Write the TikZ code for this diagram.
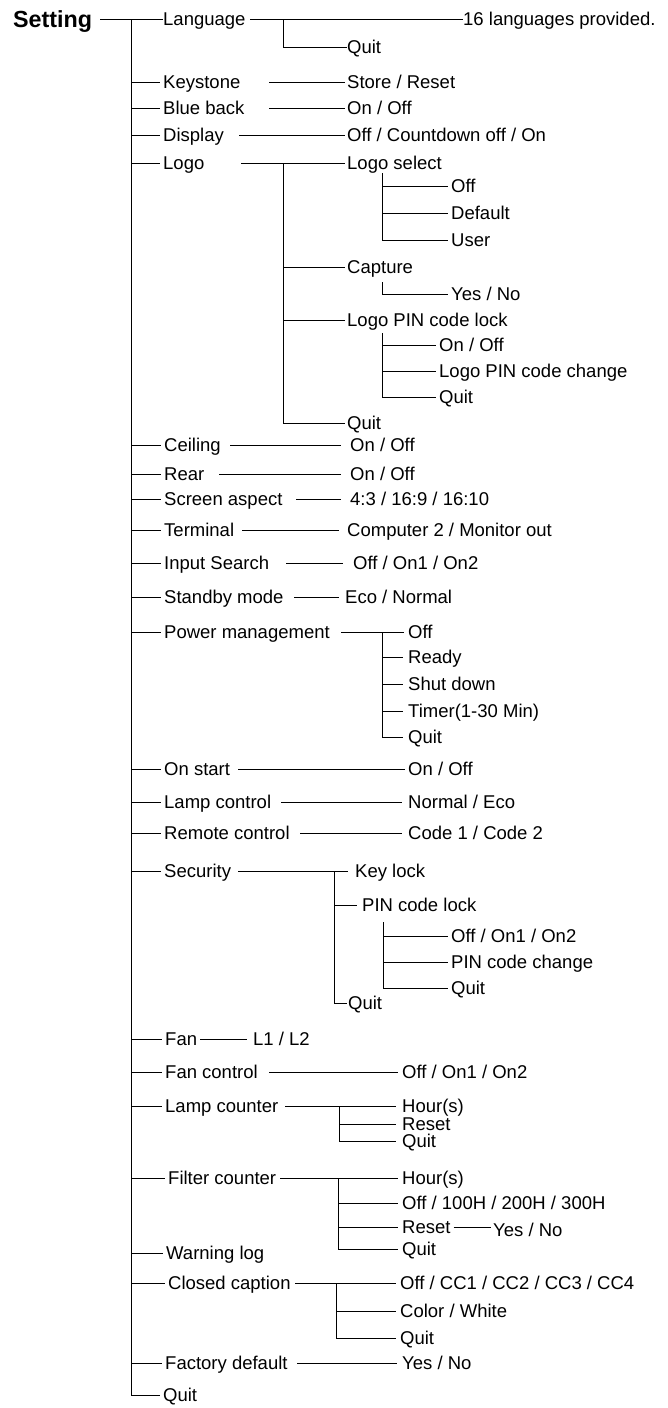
\documentclass[tikz,border=0pt]{standalone}
\usepackage{fontspec}
\setmainfont{Liberation Sans}
\newcommand{\menufont}{\fontsize{18.5}{22}\selectfont}
\newcommand{\headfont}{\fontsize{23.3}{28}\selectfont\bfseries}

\begin{document}
\begin{tikzpicture}[x=1pt, y=-1pt,
  item/.style={anchor=west, inner sep=0pt, text height=13.2pt, text depth=0pt, font=\menufont},
  head/.style={item, font=\headfont, text height=16.7pt},
  link/.style={line width=1pt}
]
\useasboundingbox (0,0) rectangle (668,1408);

% Root and first entry
\node[head] (set) at (13,19) {Setting};
\node[item] (lang) at (163,19) {Language};
\node[item] (langall) at (463,19) {16 languages provided.};
\node[item] (langq) at (347,47) {Quit};

% Main menu entries
\node[item] (key)   at (163,82)   {Keystone};
\node[item] (blue)  at (163,108)  {Blue back};
\node[item] (disp)  at (163,135)  {Display};
\node[item] (logo)  at (163,163)  {Logo};
\node[item] (ceil)  at (164,445)  {Ceiling};
\node[item] (rear)  at (164,474)  {Rear};
\node[item] (asp)   at (164,499)  {Screen aspect};
\node[item] (term)  at (164,530)  {Terminal};
\node[item] (isrch) at (164,563)  {Input Search};
\node[item] (stby)  at (164,597)  {Standby mode};
\node[item] (pwr)   at (164,632)  {Power management};
\node[item] (onst)  at (164,769)  {On start};
\node[item] (lampc) at (164,802)  {Lamp control};
\node[item] (remc)  at (164,833)  {Remote control};
\node[item] (sec)   at (164,871)  {Security};
\node[item] (fan)   at (165,1039) {Fan};
\node[item] (fanc)  at (165,1072) {Fan control};
\node[item] (lcnt)  at (165,1106) {Lamp counter};
\node[item] (fcnt)  at (168,1178) {Filter counter};
\node[item] (warn)  at (166,1253) {Warning log};
\node[item] (cc)    at (168,1283) {Closed caption};
\node[item] (fact)  at (165,1363) {Factory default};
\node[item] (quit)  at (163,1395) {Quit};

% Values of the simple entries
\node[item] (keyv)   at (347,82)   {Store / Reset};
\node[item] (bluev)  at (347,108)  {On / Off};
\node[item] (dispv)  at (347,135)  {Off / Countdown off / On};
\node[item] (ceilv)  at (350,445)  {On / Off};
\node[item] (rearv)  at (350,474)  {On / Off};
\node[item] (aspv)   at (350,499)  {4:3 / 16:9 / 16:10};
\node[item] (termv)  at (347,530)  {Computer 2 / Monitor out};
\node[item] (isrchv) at (353,563)  {Off / On1 / On2};
\node[item] (stbyv)  at (345,597)  {Eco / Normal};
\node[item] (onstv)  at (408,769)  {On / Off};
\node[item] (lampcv) at (408,802)  {Normal / Eco};
\node[item] (remcv)  at (408,833)  {Code 1 / Code 2};
\node[item] (fanv)   at (253,1039) {L1 / L2};
\node[item] (fancv)  at (402,1072) {Off / On1 / On2};
\node[item] (factv)  at (402,1363) {Yes / No};

% Logo submenu
\node[item] (lsel)  at (347,163) {Logo select};
\node[item] (loff)  at (451,186) {Off};
\node[item] (ldef)  at (451,213) {Default};
\node[item] (luser) at (451,240) {User};
\node[item] (lcap)  at (347,267) {Capture};
\node[item] (capyn) at (451,294) {Yes / No};
\node[item] (lpin)  at (347,320) {Logo PIN code lock};
\node[item] (lpoo)  at (439,345) {On / Off};
\node[item] (lpch)  at (439,371) {Logo PIN code change};
\node[item] (lpq)   at (439,397) {Quit};
\node[item] (lquit) at (347,423) {Quit};

% Power management submenu
\node[item] (poff)   at (408,632) {Off};
\node[item] (prdy)   at (408,657) {Ready};
\node[item] (pshut)  at (408,684) {Shut down};
\node[item] (ptim)   at (408,711) {Timer(1-30 Min)};
\node[item] (pquit)  at (408,737) {Quit};

% Security submenu
\node[item] (skey)  at (355,871)  {Key lock};
\node[item] (spin)  at (362,905)  {PIN code lock};
\node[item] (spoff) at (451,936)  {Off / On1 / On2};
\node[item] (spch)  at (451,962)  {PIN code change};
\node[item] (spq)   at (451,988)  {Quit};
\node[item] (squit) at (348,1003) {Quit};

% Counters
\node[item] (lch)   at (402,1106) {Hour(s)};
\node[item] (lcr)   at (402,1124) {Reset};
\node[item] (lcq)   at (402,1141) {Quit};
\node[item] (fch)   at (402,1178) {Hour(s)};
\node[item] (fco)   at (402,1203) {Off / 100H / 200H / 300H};
\node[item] (fcr)   at (402,1227) {Reset};
\node[item] (fcryn) at (493,1230) {Yes / No};
\node[item] (fcq)   at (402,1249) {Quit};

% Closed caption submenu
\node[item] (cco) at (400,1283) {Off / CC1 / CC2 / CC3 / CC4};
\node[item] (ccc) at (400,1311) {Color / White};
\node[item] (ccq) at (400,1338) {Quit};

% Branch points
\coordinate (trunk)  at (131,19);
\coordinate (langbr) at (283,19);
\coordinate (logobr) at (283,163);
\coordinate (lselbr) at (382,173);
\coordinate (capbr)  at (382,282);
\coordinate (lpinbr) at (382,333);
\coordinate (pwrbr)  at (382,632);
\coordinate (secbr)  at (334,871);
\coordinate (spinbr) at (383,922);
\coordinate (lcbr)   at (339,1106);
\coordinate (fcbr)   at (338,1178);
\coordinate (ccbr)   at (336,1283);

% Trunk
\draw[link] (100,0 |- lang) -- (lang.west);
\draw[link] (trunk) |- ([xshift=-3pt]quit.west);
\foreach \n in {key,blue,disp,logo,ceil,rear,asp,term,isrch,stby,pwr,onst,
                lampc,remc,sec,fan,fanc,lcnt,fcnt,warn,cc,fact}
  \draw[link, shorten >=3pt] (trunk |- \n) -- (\n.west);

% Language
\draw[link] (250,0 |- lang) -- (langall.west);
\draw[link] (langbr) |- (langq.west);

% Simple entries
\draw[link, shorten >=2pt] (269,0 |- key)   -- (keyv.west);
\draw[link, shorten >=2pt] (269,0 |- blue)  -- (bluev.west);
\draw[link, shorten >=2pt] (239,0 |- disp)  -- (dispv.west);
\draw[link, shorten >=9pt] (230,0 |- ceil)  -- (ceilv.west);
\draw[link, shorten >=9pt] (219,0 |- rear)  -- (rearv.west);
\draw[link, shorten >=9pt] (296,0 |- asp)   -- (aspv.west);
\draw[link, shorten >=8pt] (242,0 |- term)  -- (termv.west);
\draw[link, shorten >=10pt] (286,0 |- isrch) -- (isrchv.west);
\draw[link, shorten >=6pt] (294,0 |- stby)  -- (stbyv.west);
\draw[link, shorten >=3pt] (238,0 |- onst)  -- (onstv.west);
\draw[link, shorten >=6pt] (281,0 |- lampc) -- (lampcv.west);
\draw[link, shorten >=6pt] (300,0 |- remc)  -- (remcv.west);
\draw[link, shorten >=6pt] (200,0 |- fan)   -- (fanv.west);
\draw[link, shorten >=4pt] (269,0 |- fanc)  -- (fancv.west);
\draw[link, shorten >=5pt] (297,0 |- fact)  -- (factv.west);

% Logo
\draw[link, shorten >=2pt] (241,0 |- logo) -- (lsel.west);
\draw[link, shorten >=2pt] (logobr) |- (lquit.west);
\draw[link, shorten >=2pt] (logobr |- lcap) -- (lcap.west);
\draw[link, shorten >=2pt] (logobr |- lpin) -- (lpin.west);
\draw[link, shorten >=3pt] (lselbr) |- (luser.west);
\foreach \n in {loff,ldef}
  \draw[link, shorten >=3pt] (lselbr |- \n) -- (\n.west);
\draw[link, shorten >=3pt] (capbr) |- (capyn.west);
\draw[link, shorten >=3pt] (lpinbr) |- (lpq.west);
\foreach \n in {lpoo,lpch}
  \draw[link, shorten >=3pt] (lpinbr |- \n) -- (\n.west);

% Power management
\draw[link, shorten >=4pt] (341,0 |- pwr) -- (poff.west);
\draw[link, shorten >=5pt] (pwrbr) |- (pquit.west);
\foreach \n in {prdy,pshut,ptim}
  \draw[link, shorten >=5pt] (pwrbr |- \n) -- (\n.west);

% Security
\draw[link, shorten >=7pt] (238,0 |- sec) -- (skey.west);
\draw[link, shorten >=1pt] (secbr) |- (squit.west);
\draw[link, shorten >=5pt] (secbr |- spin) -- (spin.west);
\draw[link, shorten >=3pt] (spinbr) |- (spq.west);
\foreach \n in {spoff,spch}
  \draw[link, shorten >=3pt] (spinbr |- \n) -- (\n.west);

% Lamp counter
\draw[link, shorten >=6pt] (285,0 |- lcnt) -- (lch.west);
\draw[link, shorten >=6pt] (lcbr) |- (lcq.west);
\draw[link, shorten >=6pt] (lcbr |- lcr) -- (lcr.west);

% Filter counter
\draw[link, shorten >=4pt] (280,0 |- fcnt) -- (fch.west);
\draw[link, shorten >=4pt] (fcbr) |- (fcq.west);
\foreach \n in {fco,fcr}
  \draw[link, shorten >=4pt] (fcbr |- \n) -- (\n.west);
\draw[link] ([xshift=3pt]fcr.east) -- ([xshift=-2pt]fcryn.west |- fcr);

% Closed caption
\draw[link, shorten >=4pt] (295,0 |- cc) -- (cco.west);
\draw[link, shorten >=4pt] (ccbr) |- (ccq.west);
\draw[link, shorten >=4pt] (ccbr |- ccc) -- (ccc.west);
\end{tikzpicture}
\end{document}
